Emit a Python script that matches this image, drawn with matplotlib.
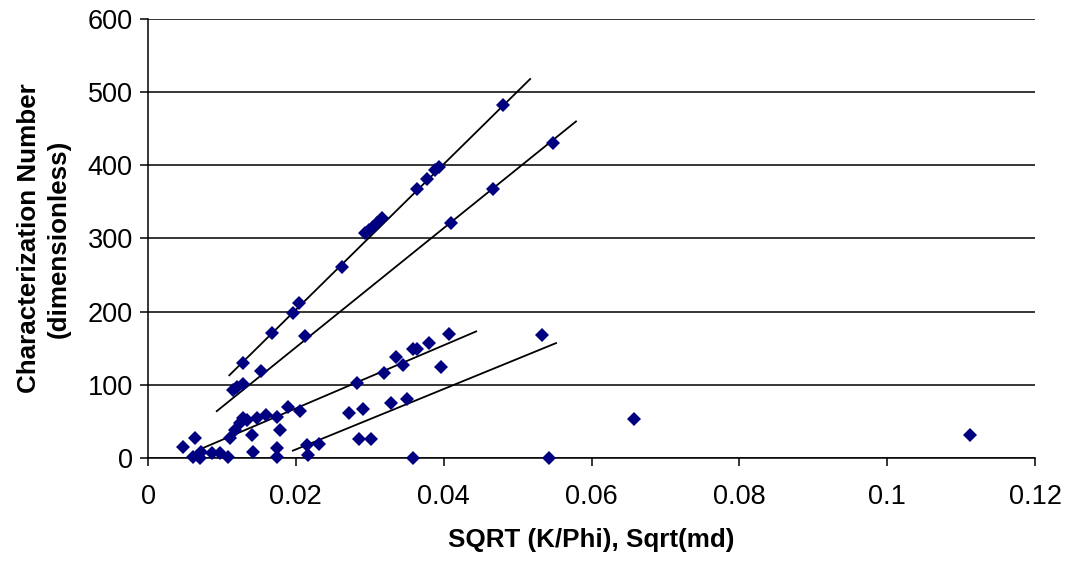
import matplotlib
matplotlib.use("Agg")
from matplotlib import pyplot as plt

plt.rcParams['font.family'] = ['Liberation Sans', 'DejaVu Sans']

# measured points, sqrt(k/phi) vs characterization number
sqrt_k_phi = [
    # steep upper trend
    0.0115, 0.0120, 0.0129, 0.0128, 0.0168, 0.0196, 0.0204, 0.0262, 0.0294,
    0.0299, 0.0304, 0.0310, 0.0317, 0.0364, 0.0378, 0.0388, 0.0394, 0.0480,
    # second trend
    0.0153, 0.0212, 0.0410, 0.0467, 0.0548,
    # low cluster
    0.0047, 0.0064, 0.0061, 0.0070, 0.0072, 0.0087, 0.0097, 0.0108, 0.0111,
    0.0118, 0.0125, 0.0129, 0.0134, 0.0141, 0.0147, 0.0142, 0.0160, 0.0174,
    0.0179, 0.0174, 0.0174, 0.0190, 0.0206, 0.0215, 0.0217, 0.0231, 0.0272,
    0.0291, 0.0283, 0.0285, 0.0302, 0.0319, 0.0329, 0.0335, 0.0345, 0.0350,
    0.0359, 0.0364, 0.0359, 0.0380, 0.0396, 0.0407, 0.0533, 0.0543,
    # outliers
    0.0658, 0.1112,
]
char_number = [
    93, 97, 101, 130, 171, 198, 212, 261, 307,
    312, 316, 321, 328, 368, 381, 394, 398, 482,
    119, 167, 321, 368, 430,
    15, 27, 1, 0, 8, 7, 7, 1, 27,
    38, 48, 55, 52, 31, 55, 8, 59, 56,
    38, 14, 1, 70, 64, 18, 4, 19, 61,
    67, 103, 26, 26, 116, 75, 138, 127, 81,
    149, 149, 0, 157, 125, 169, 168, 0,
    53, 31,
]

# trend lines (start/end)
trend_x = [(0.0110, 0.0517), (0.0093, 0.0579), (0.0066, 0.0444), (0.0196, 0.0552)]
trend_y = [(113, 518), (64, 460), (10, 173), (10, 157)]

fig = plt.figure(figsize=(10.71, 5.64), dpi=100)
ax = fig.add_axes([0.1382, 0.188, 0.8282, 0.7783])

for xs, ys in zip(trend_x, trend_y):
    ax.plot(xs, ys, color='black', lw=1.3, zorder=2)

ax.plot(sqrt_k_phi, char_number, 'D', color='#000080', ms=7.4, mew=0,
        zorder=3, clip_on=False)

ax.set_xlim(0, 0.12)
ax.set_ylim(0, 600)
ax.set_xticks([0, 0.02, 0.04, 0.06, 0.08, 0.1, 0.12])
ax.set_xticklabels(['0', '0.02', '0.04', '0.06', '0.08', '0.1', '0.12'])
ax.set_yticks(range(0, 601, 100))

ax.yaxis.grid(True, color='black', lw=1.1)
ax.set_axisbelow(True)
for s in ['top', 'right']:
    ax.spines[s].set_visible(False)
for s in ['left', 'bottom']:
    ax.spines[s].set_linewidth(1.1)

ax.tick_params(axis='both', direction='out', length=6, width=1.1,
               labelsize=19.5, pad=5)
ax.tick_params(axis='x', pad=13)

ax.set_xlabel('SQRT (K/Phi), Sqrt(md)', fontsize=18.7, fontweight='bold',
              labelpad=13)
ax.set_ylabel('Characterization Number\n(dimensionless)', fontsize=18.7,
              fontweight='bold', linespacing=1.3, labelpad=12)

fig.savefig('out.png', dpi=100)
